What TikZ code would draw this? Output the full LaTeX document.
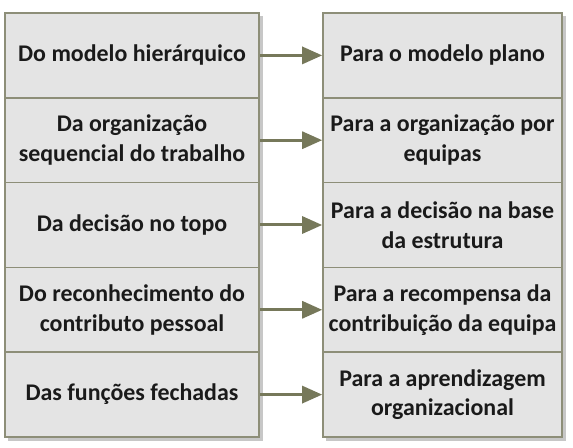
\documentclass[tikz,border=0pt]{standalone}
\usepackage{fontspec}
\setmainfont{Carlito}
\usetikzlibrary{arrows.meta}
\definecolor{boxfill}{HTML}{E4E4E4}
\definecolor{boxline}{HTML}{8D8E78}
\definecolor{arrowcol}{HTML}{76785A}
\definecolor{txt}{HTML}{1A1A1A}
\tikzset{
  lbox/.style={draw=boxline, line width=1.6bp, fill=boxfill, rectangle,
    minimum width=254bp, minimum height=84.8bp, inner sep=0pt,
    align=center, text=txt, font=\fontsize{24}{30}\selectfont\bfseries},
  rbox/.style={lbox, minimum width=239bp},
  conn/.style={draw=arrowcol, line width=3bp,
    -{Triangle[length=20bp,width=17bp]}},
  shadowbox/.style={fill=black, opacity=0.22}
}
\begin{document}
\begin{tikzpicture}[x=1bp,y=-1bp]
\useasboundingbox (0,0) rectangle (573,448);
% shadows
\fill[shadowbox] (8,16) rectangle (263,441);
\fill[shadowbox] (326,16) rectangle (566,441);
% left column
\node[lbox] (L1) at (132,55.4) {Do modelo hierárquico};
\node[lbox] (L2) at (132,140.2) {Da organização\\sequencial do trabalho};
\node[lbox] (L3) at (132,225.0) {Da decisão no topo};
\node[lbox] (L4) at (132,309.8) {Do reconhecimento do\\contributo pessoal};
\node[lbox] (L5) at (132,394.6) {Das funções fechadas};
% right column
\node[rbox] (R1) at (442.5,55.4) {Para o modelo plano};
\node[rbox] (R2) at (442.5,140.2) {Para a organização por\\equipas};
\node[rbox] (R3) at (442.5,225.0) {Para a decisão na base\\da estrutura};
\node[rbox] (R4) at (442.5,309.8) {Para a recompensa da\\contribuição da equipa};
\node[rbox] (R5) at (442.5,394.6) {Para a aprendizagem\\organizacional};
% connectors
\foreach \i in {1,...,5} {
  \draw[conn] (L\i.east) -- (R\i.west);
}
\end{tikzpicture}
\end{document}
